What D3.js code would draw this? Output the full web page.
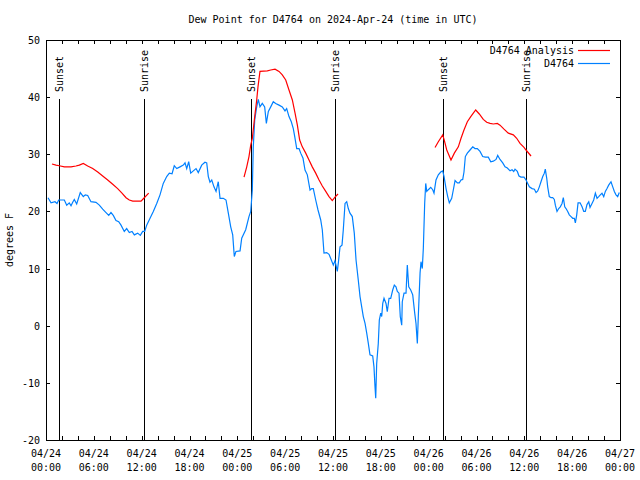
<!DOCTYPE html>
<html><head><meta charset="utf-8">
<script src="https://cdn.jsdelivr.net/npm/d3@7"></script>
<style>body{margin:0;background:#fff}svg{display:block}text{font-family:"DejaVu Sans Mono","Liberation Mono",monospace;font-size:10px;fill:#000}</style>
</head><body><svg id="c" width="640" height="480"></svg>
<script>
const title = "Dew Point for D4764 on 2024-Apr-24 (time in UTC)";
const yLabel = "degrees F";
const seriesNames = ["D4764 Analysis", "D4764"];
const seriesColors = ["#ff0000", "#0080ff"];
// hours since 04/24 00:00 UTC
const obsHours = [0.25,0.63,1.13,1.38,1.59,2.30,2.60,2.92,3.14,3.35,3.55,3.85,4.30,4.68,4.93,5.23,5.64,6.27,6.69,7.11,7.53,7.87,8.15,8.44,8.78,9.12,9.41,9.82,10.12,10.45,10.79,11.08,11.50,11.83,12.13,12.38,12.63,13.05,13.46,13.89,14.30,14.71,15.14,15.47,15.81,16.09,16.40,16.81,17.22,17.44,17.65,17.90,18.15,18.48,18.82,19.10,19.53,19.94,20.16,20.36,20.57,20.79,21.07,21.33,21.61,21.83,22.24,22.58,22.87,23.17,23.42,23.62,23.83,24.34,24.55,25.05,25.46,25.68,25.88,26.00,26.18,26.43,26.63,26.84,27.13,27.43,27.64,27.89,28.19,28.51,28.81,29.23,29.64,29.98,30.19,30.48,30.77,31.02,31.20,31.45,31.74,31.95,32.24,32.49,32.78,33.12,33.33,33.53,33.83,34.12,34.46,34.66,34.87,35.21,35.50,35.79,36.04,36.25,36.54,36.67,36.88,37.13,37.29,37.51,37.72,37.92,38.13,38.42,38.67,38.89,39.17,39.39,39.60,39.80,40.02,40.23,40.43,40.64,40.98,41.14,41.27,41.36,41.48,41.68,41.81,41.99,42.11,42.24,42.40,42.65,42.81,43.03,43.24,43.49,43.69,43.90,44.07,44.28,44.44,44.62,44.69,44.91,45.16,45.32,45.50,45.75,46.00,46.25,46.41,46.58,46.70,46.92,47.04,47.20,47.33,47.50,47.63,47.76,47.96,48.26,48.51,48.67,48.92,49.21,49.51,49.76,49.93,50.18,50.39,50.59,50.89,51.09,51.31,51.60,51.84,52.06,52.27,52.43,52.60,52.85,53.19,53.53,53.81,54.10,54.44,54.78,55.11,55.48,55.79,56.11,56.45,56.66,56.95,57.29,57.58,57.87,58.21,58.46,58.67,58.83,59.12,59.33,59.58,59.96,60.21,60.42,60.63,60.97,61.26,61.47,61.68,61.88,62.09,62.31,62.51,62.63,62.81,62.93,63.13,63.35,63.56,63.76,63.89,64.10,64.31,64.51,64.73,64.89,65.07,65.23,65.44,65.64,65.86,66.07,66.27,66.40,66.57,66.74,66.99,67.24,67.45,67.65,67.86,68.08,68.24,68.49,68.70,68.91,69.12,69.33,69.53,69.74,69.96,70.16,70.37,70.58,70.87,71.09,71.29,71.50,71.71,71.91];
const obsValues = [22.4,21.5,21.7,21.4,22.0,22.0,21.1,21.5,21.0,21.6,22.1,21.3,23.3,22.6,22.9,22.8,21.7,21.6,21.1,20.4,19.8,19.3,19.8,19.3,18.4,18.2,17.6,16.5,17.0,16.3,16.5,15.9,16.2,15.8,16.5,16.5,17.6,18.8,20.0,21.4,22.9,24.9,26.1,26.7,26.6,28.0,27.5,27.8,28.1,28.5,27.5,28.7,26.7,27.1,27.5,26.8,28.1,28.6,28.5,26.1,25.1,25.5,24.3,23.5,25.2,22.3,22.3,22.0,19.7,17.3,15.9,12.1,13.0,13.1,15.3,16.8,19.1,20.0,23.75,31.3,36.0,38.3,39.6,38.3,38.9,38.3,35.4,37.5,38.3,39.2,38.9,38.6,38.3,37.6,38.0,36.6,35.7,34.5,33.1,31.0,31.0,30.2,29.3,27.25,26.4,23.75,24.0,24.0,22.0,20.25,18.5,16.75,12.7,12.8,12.5,11.5,10.6,11.4,9.5,11.0,13.8,14.1,16.75,21.4,21.7,20.5,19.7,19.1,16.2,11.5,8.0,5.1,3.3,1.6,0.4,-1.3,-3.1,-5.1,-5.3,-7.2,-10.7,-12.7,-6.6,-3.1,1.0,2.2,1.6,3.9,4.8,3.9,2.45,4.8,4.8,6.25,7.1,6.8,6.0,5.7,1.6,0.1,4.2,5.7,5.7,10.6,6.8,6.25,5.4,2.2,0.4,-3.1,1.6,9.2,11.2,10.0,13.5,21.4,24.9,23.5,23.8,24.2,23.8,23.2,25.5,26.4,26.9,27.1,26.1,24.0,22.6,21.5,22.3,23.75,25.4,25.0,25.0,25.5,25.6,26.9,29.6,30.2,30.75,31.3,31.0,31.0,30.5,29.6,29.5,29.5,28.7,28.8,29.1,29.8,29.1,28.5,27.8,27.6,27.1,27.3,27.0,27.4,27.0,26.2,26.0,26.0,25.5,24.9,24.3,24.0,23.9,23.3,23.6,24.3,25.2,26.1,26.7,27.4,25.8,24.3,22.6,22.4,22.4,22.1,21.1,20.0,20.5,20.8,21.4,22.4,20.8,20.5,20.0,19.4,19.1,18.8,18.8,18.0,19.4,21.5,21.5,20.8,20.0,20.0,21.2,21.7,20.7,21.4,22.0,23.2,22.3,22.6,22.9,23.2,22.6,23.5,24.0,24.6,25.2,24.3,23.5,22.9,22.6,23.3];
const anaHours1 = [0.75,1.25,1.67,2.30,3.14,3.76,4.18,4.68,5.23,5.86,6.49,7.11,7.74,8.37,8.99,9.53,10.04,10.45,10.88,11.92,12.33,12.88];
const anaValues1 = [28.3,28.1,28.0,27.8,27.8,27.95,28.1,28.4,27.95,27.5,26.9,26.2,25.5,24.75,24.0,23.2,22.4,22.0,21.8,21.8,22.4,23.2];
const anaHours2 = [24.84,25.18,25.46,25.68,25.88,26.18,26.43,26.59,26.84,27.76,28.19,28.73,29.23,29.64,30.07,30.48,30.90,31.24,31.53,31.82,32.15,32.58,32.99,33.40,33.83,34.25,34.66,35.09,35.50,35.91,36.25,36.63];
const anaValues2 = [26.0,27.8,29.6,31.6,32.8,36.6,39.5,41.8,44.5,44.6,44.75,44.9,44.5,43.9,43.0,41.25,39.5,37.2,35.1,32.5,31.3,30.2,29.0,27.8,26.7,25.5,24.45,23.5,22.6,21.9,22.5,23.05];
const anaHours3 = [48.80,49.21,49.76,49.93,50.27,50.80,51.22,51.72,52.06,52.43,52.85,53.28,53.60,53.90,54.35,54.85,55.28,55.70,56.11,56.61,56.95,57.45,57.99,58.62,59.04,59.46,59.96,60.21,60.84];
const anaValues3 = [31.2,32.2,33.4,32.6,30.75,29.0,30.2,31.3,32.8,34.25,35.7,36.6,37.2,37.75,37.05,36.1,35.6,35.4,35.3,35.4,35.1,34.4,33.7,33.4,32.8,31.9,31.2,30.75,29.7];
const sunEventHours = [1.63,12.29,25.71,36.25,49.80,60.21];
const sunEventLabels = ["Sunset","Sunrise","Sunset","Sunrise","Sunset","Sunrise"];
const xTickHours = [0,6,12,18,24,30,36,42,48,54,60,66,72];
const xTickDates = ["04/24","04/24","04/24","04/24","04/25","04/25","04/25","04/25","04/26","04/26","04/26","04/26","04/27"];
const xTickTimes = ["00:00","06:00","12:00","18:00","00:00","06:00","12:00","18:00","00:00","06:00","12:00","18:00","00:00"];
const yTicks = [-20,-10,0,10,20,30,40,50];

const W=640,H=480, L=46,R=620,T=40,B=440;
const svg = d3.select("#c");
const x = d3.scaleLinear().domain([0,72]).range([L,R]);
const y = d3.scaleLinear().domain([-20,50]).range([B,T]);

svg.append("text").attr("x",(L+R)/2).attr("y",23).attr("text-anchor","middle").text(title);
svg.append("text").attr("transform",`translate(13,${(T+B)/2}) rotate(-90)`).attr("text-anchor","middle").text(yLabel);

// axes (inward ticks)
const minor = d3.range(0,73,2);
const gB = svg.append("g").attr("transform",`translate(0,${B})`).call(d3.axisBottom(x).tickValues(minor).tickSize(-4).tickFormat(""));
const gT = svg.append("g").attr("transform",`translate(0,${T})`).call(d3.axisTop(x).tickValues(minor).tickSize(-4).tickFormat(""));
const gL = svg.append("g").attr("transform",`translate(${L},0)`).call(d3.axisLeft(y).tickValues(yTicks).tickSize(-4).tickFormat(""));
const gR = svg.append("g").attr("transform",`translate(${R},0)`).call(d3.axisRight(y).tickValues(yTicks).tickSize(-4).tickFormat(""));
[gB,gT,gL,gR].forEach(g=>{g.select(".domain").remove();g.selectAll("line").attr("stroke","#000").attr("shape-rendering","crispEdges");});

yTicks.forEach(v=>svg.append("text").attr("x",L-6).attr("y",y(v)+4).attr("text-anchor","end").text(v));
xTickHours.forEach((h,i)=>{
  svg.append("text").attr("x",x(h)).attr("y",457).attr("text-anchor","middle").text(xTickDates[i]);
  svg.append("text").attr("x",x(h)).attr("y",471).attr("text-anchor","middle").text(xTickTimes[i]);
});

// sun events
sunEventHours.forEach((h,i)=>{
  svg.append("line").attr("x1",Math.round(x(h))+0.5).attr("x2",Math.round(x(h))+0.5).attr("y1",99).attr("y2",B).attr("stroke","#000");
  svg.append("text").attr("transform",`translate(${x(h)+4},92) rotate(-90)`).attr("text-anchor","start").text(sunEventLabels[i]);
});

const line = d3.line().x(d=>x(d[0])).y(d=>y(d[1]));
const zip=(a,b)=>a.map((h,i)=>[h,b[i]]);
svg.append("path").attr("d",line(zip(obsHours,obsValues))).attr("fill","none").attr("stroke",seriesColors[1]).attr("stroke-width",1.2);
[[anaHours1,anaValues1],[anaHours2,anaValues2],[anaHours3,anaValues3]].forEach(([a,b])=>{
  svg.append("path").attr("d",line(zip(a,b))).attr("fill","none").attr("stroke",seriesColors[0]).attr("stroke-width",1.2);
});

// frame
svg.append("rect").attr("x",L+0.5).attr("y",T+0.5).attr("width",R-L).attr("height",B-T).attr("fill","none").attr("stroke","#000");

// legend
seriesNames.forEach((n,i)=>{
  const ly = 50 + i*13;
  svg.append("text").attr("x",574).attr("y",ly+4).attr("text-anchor","end").text(n);
  svg.append("line").attr("x1",578).attr("x2",610).attr("y1",ly+0.5).attr("y2",ly+0.5).attr("stroke",seriesColors[i]).attr("stroke-width",1.2);
});
</script></body></html>
